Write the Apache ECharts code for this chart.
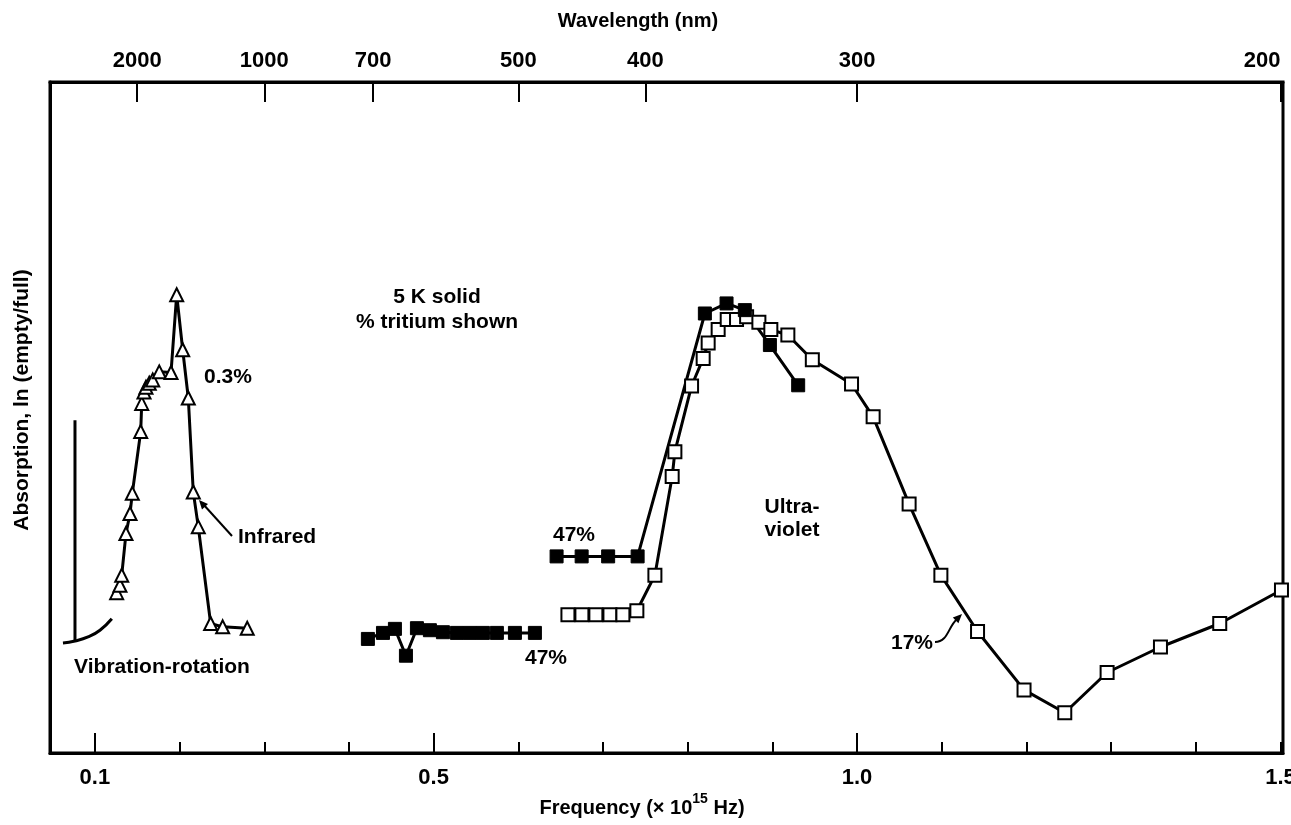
<!DOCTYPE html>
<html lang="en">
<head>
    <meta charset="UTF-8">
    <title>Absorption spectrum</title>
    <script src="https://cdn.jsdelivr.net/npm/echarts@6/dist/echarts.min.js"></script>
    <style>
        html, body { margin: 0; padding: 0; background: #fff; }
        #main { width: 1291px; height: 825px; }
    </style>
</head>
<body>
<div id="main"></div>
<script type="text/javascript">
// axis range (frequency, x 10^15 Hz) and ticks
var X_MIN = 0.047, X_MAX = 1.503;
var freqTicks = [0.1, 0.2, 0.3, 0.4, 0.5, 0.6, 0.7, 0.8, 0.9, 1.0, 1.1, 1.2, 1.3, 1.4, 1.5];
var freqMajor = [0.1, 0.5, 1.0];
var freqLabels = [0.1, 0.5, 1.0, 1.5];
var wavelengths = [2000, 1000, 700, 500, 400, 300, 200];   // nm, top axis

// vibration-rotation trace
var vibFreq = [0.0623, 0.0765, 0.0919, 0.106, 0.120];
var vibAbs  = [16.4, 16.7, 17.3, 18.3, 20.0];
var vibBarFreq = [0.0765, 0.0765];
var vibBarAbs  = [16.7, 49.6];

// infrared, 0.3% tritium (triangles)
var irFreq = [0.1257, 0.1296, 0.1317, 0.1367, 0.1415, 0.1442, 0.1541, 0.1553, 0.1580, 0.1603, 0.1642,
              0.1683, 0.1760, 0.1899, 0.1966, 0.2037, 0.2103, 0.2162, 0.2221, 0.2367, 0.2509, 0.2799];
var irAbs  = [23.9, 25.0, 26.5, 32.7, 35.7, 38.7, 47.9, 52.1, 53.8, 54.5, 55.1,
              55.6, 56.8, 56.7, 68.3, 60.1, 52.9, 38.9, 33.7, 19.3, 18.8, 18.6];

// 47% tritium, visible region (filled squares)
var visFreq = [0.4224, 0.4402, 0.4543, 0.4673, 0.4803, 0.4956, 0.5110, 0.5275, 0.5429, 0.5582, 0.5747, 0.5960, 0.6196];
var visAbs  = [17.0, 17.9, 18.5, 14.5, 18.6, 18.3, 18.0, 17.9, 17.9, 17.9, 17.9, 17.9, 17.9];

// 47% tritium, ultraviolet (filled squares)
var uv47Freq = [0.6452, 0.6748, 0.7061, 0.7409, 0.8203, 0.8459, 0.8675, 0.8971, 0.9305];
var uv47Abs  = [29.3, 29.3, 29.3, 29.3, 65.5, 67.0, 66.0, 60.8, 54.8];

// 17% tritium, ultraviolet (open squares)
var uv17Freq = [0.6586, 0.6751, 0.6916, 0.7082, 0.7235, 0.7400, 0.7613, 0.7817, 0.7849, 0.8046, 0.8183,
                0.8242, 0.8360, 0.8467, 0.8577, 0.8696, 0.8841, 0.8982, 0.9183, 0.9472, 0.9935, 1.0190,
                1.0615, 1.0990, 1.1423, 1.1972, 1.2453, 1.2953, 1.3583, 1.4283, 1.5012];
var uv17Abs  = [20.6, 20.6, 20.6, 20.6, 20.6, 21.2, 26.5, 41.2, 44.9, 54.7, 58.8,
                61.1, 63.1, 64.6, 64.6, 65.0, 64.2, 63.1, 62.3, 58.6, 55.0, 50.1,
                37.1, 26.5, 18.1, 9.4, 6.0, 12.0, 15.8, 19.3, 24.3];

function pairs(xs, ys) {
    var out = [];
    for (var i = 0; i < xs.length; i++) out.push([xs[i], ys[i]]);
    return out;
}
var wlFreq = wavelengths.map(function (w) { return 300 / w; });

var FONT = 'Liberation Sans, Arial, sans-serif';
var lbl = { fontFamily: FONT, fontSize: 22, fontWeight: 'bold', color: '#000' };

function txt(s, x, y, size, align) {
    return {
        type: 'text', x: x, y: y, z: 100,
        style: {
            text: s, fill: '#000', font: 'bold ' + (size || 21) + 'px ' + FONT,
            textAlign: align || 'center', textVerticalAlign: 'middle'
        }
    };
}

var myChart = echarts.init(document.getElementById('main'));
myChart.setOption({
    animation: false,
    backgroundColor: '#fff',
    grid: {
        left: 50, right: 8, top: 82, bottom: 72,
        containLabel: false, outerBoundsMode: 'none',
        show: true, borderColor: '#000', borderWidth: 3, backgroundColor: 'transparent'
    },
    xAxis: [
        {
            type: 'value', position: 'bottom', min: X_MIN, max: X_MAX,
            axisLine: { show: true, lineStyle: { color: '#000', width: 3 } },
            axisTick: { show: true, inside: true, length: 11, customValues: freqTicks,
                        lineStyle: { color: '#000', width: 2 } },
            axisLabel: Object.assign({ customValues: freqLabels, margin: 14,
                        formatter: function (v) { return v.toFixed(1); } }, lbl),
            splitLine: { show: false }
        },
        {
            type: 'value', position: 'bottom', min: X_MIN, max: X_MAX,
            axisLine: { show: false },
            axisTick: { show: true, inside: true, length: 20, customValues: freqMajor,
                        lineStyle: { color: '#000', width: 2 } },
            axisLabel: { show: false },
            splitLine: { show: false }
        },
        {
            type: 'value', position: 'top', min: X_MIN, max: X_MAX,
            axisLine: { show: true, lineStyle: { color: '#000', width: 3 } },
            axisTick: { show: true, inside: true, length: 20, customValues: wlFreq,
                        lineStyle: { color: '#000', width: 2 } },
            axisLabel: Object.assign({ customValues: wlFreq, margin: 10, alignMaxLabel: 'right',
                        formatter: function (v) { return String(Math.round(300 / v)); } }, lbl),
            splitLine: { show: false }
        }
    ],
    yAxis: {
        type: 'value', min: 0, max: 100,
        axisLine: { show: true, lineStyle: { color: '#000', width: 3 } },
        axisTick: { show: false }, axisLabel: { show: false }, splitLine: { show: false }
    },
    series: [
        {
            name: 'vib', type: 'line', smooth: true, symbol: 'none',
            lineStyle: { color: '#000', width: 3 }, data: pairs(vibFreq, vibAbs)
        },
        {
            name: 'vibBar', type: 'line', symbol: 'none',
            lineStyle: { color: '#000', width: 3 }, data: pairs(vibBarFreq, vibBarAbs)
        },
        {
            name: '0.3%', type: 'line', symbol: 'triangle', symbolSize: 13,
            lineStyle: { color: '#000', width: 3 },
            itemStyle: { color: '#fff', borderColor: '#000', borderWidth: 2 },
            data: pairs(irFreq, irAbs)
        },
        {
            name: '17%', type: 'line', symbol: 'rect', symbolSize: 13,
            lineStyle: { color: '#000', width: 3 },
            itemStyle: { color: '#fff', borderColor: '#000', borderWidth: 2 },
            data: pairs(uv17Freq, uv17Abs)
        },
        {
            name: '47% uv', type: 'line', symbol: 'rect', symbolSize: 13,
            lineStyle: { color: '#000', width: 3 },
            itemStyle: { color: '#000', borderColor: '#000', borderWidth: 1 },
            data: pairs(uv47Freq, uv47Abs)
        },
        {
            name: '47% vis', type: 'line', symbol: 'rect', symbolSize: 13,
            lineStyle: { color: '#000', width: 3 },
            itemStyle: { color: '#000', borderColor: '#000', borderWidth: 1 },
            data: pairs(visFreq, visAbs)
        }
    ],
    graphic: [
        txt('Wavelength (nm)', 638, 21, 20),
        {
            type: 'text', x: 642, y: 805, z: 100,
            style: {
                text: '{a|Frequency (× 10}{s|15}{a| Hz)}',
                textAlign: 'center', textVerticalAlign: 'middle',
                rich: {
                    a: { fontFamily: FONT, fontSize: 20, fontWeight: 'bold', fill: '#000', lineHeight: 26, verticalAlign: 'bottom' },
                    s: { fontFamily: FONT, fontSize: 14, fontWeight: 'bold', fill: '#000', lineHeight: 26, verticalAlign: 'top' }
                }
            }
        },
        {
            type: 'text', x: 22, y: 400, rotation: Math.PI / 2, z: 100,
            style: {
                text: 'Absorption, ln (empty/full)', fill: '#000',
                font: 'bold 21px ' + FONT, textAlign: 'center', textVerticalAlign: 'middle'
            }
        },
        txt('5 K solid', 437, 297),
        txt('% tritium shown', 437, 322),
        txt('0.3%', 228, 377),
        txt('Infrared', 238, 537, 21, 'left'),
        txt('Vibration-rotation', 162, 667),
        txt('47%', 574, 535),
        txt('47%', 546, 658),
        txt('Ultra-', 792, 507),
        txt('violet', 792, 530),
        txt('17%', 912, 643),
        // arrow to the infrared curve
        { type: 'line', z: 100, shape: { x1: 232, y1: 536, x2: 203, y2: 504 }, style: { stroke: '#000', lineWidth: 2 } },
        { type: 'polygon', z: 100, shape: { points: [[199, 500], [208, 504], [202, 509.4]] }, style: { fill: '#000' } },
        // arrow to the 17% curve
        { type: 'bezierCurve', z: 100, shape: { x1: 935, y1: 642, x2: 957, y2: 619, cpx1: 948, cpy1: 642, cpx2: 948, cpy2: 627 },
          style: { stroke: '#000', lineWidth: 2, fill: null } },
        { type: 'polygon', z: 100, shape: { points: [[962, 614], [958.4, 623.2], [952.8, 617.6]] }, style: { fill: '#000' } }
    ]
});
</script>
</body>
</html>
